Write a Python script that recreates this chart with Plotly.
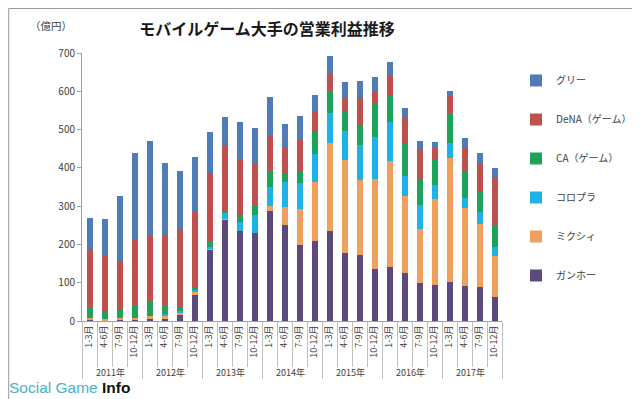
import plotly.graph_objects as go

years = ["2011年", "2012年", "2013年", "2014年", "2015年", "2016年", "2017年"]
quarters = ["1-3月", "4-6月", "7-9月", "10-12月"]

gungho = [3, 2, 3, 3, 4, 6, 16, 68, 188, 265, 236, 229, 287, 250, 198, 208, 236, 178, 173, 137, 141, 125, 99, 95, 101, 92, 88, 62]
mixi = [6, 4, 6, 6, 8, 8, 5, 8, 2, 2, 0, 0, 13, 47, 94, 156, 228, 242, 195, 235, 278, 202, 142, 224, 326, 203, 165, 109]
colopl = [0, 0, 0, 0, 0, 3, 6, 4, 3, 17, 22, 47, 51, 66, 68, 72, 79, 75, 92, 108, 101, 53, 63, 37, 38, 25, 32, 22]
ca = [24, 18, 22, 32, 38, 24, 7, 8, 13, 4, 15, 26, 40, 22, 33, 57, 56, 51, 50, 87, 69, 83, 63, 64, 79, 68, 52, 58]
dena = [155, 145, 127, 173, 175, 182, 203, 197, 180, 169, 150, 110, 94, 69, 80, 52, 47, 36, 75, 32, 51, 71, 79, 35, 44, 66, 73, 124]
gree = [82, 98, 168, 224, 246, 189, 155, 143, 107, 76, 98, 92, 100, 61, 63, 46, 46, 42, 43, 38, 36, 22, 25, 13, 14, 24, 28, 24]

series = [
    ("ガンホー", gungho, "#5B4A7C"),
    ("ミクシィ", mixi, "#F0A05E"),
    ("コロプラ", colopl, "#1FB2E6"),
    ("CA（ゲーム）", ca, "#1FA35C"),
    ("DeNA（ゲーム）", dena, "#BE504E"),
    ("グリー", gree, "#4F7CB8"),
]

x_year = [y for y in years for _ in quarters]
x_q = [q for _ in years for q in quarters]

FONT = "Noto Sans CJK JP"

fig = go.Figure()
for i, (name, vals, col) in enumerate(series):
    fig.add_trace(go.Bar(
        x=[x_year, x_q], y=vals, name=name, marker_color=col,
        marker_line_width=0, legendgroup=f"g{i}", legendrank=1000 - i,
    ))

L, R, T, B = 74, 145, 45, 86
W, H = 640, 399
pw, ph = W - L - R, H - T - B

fig.update_layout(
    width=W, height=H,
    barmode="stack", bargap=0.6,
    plot_bgcolor="white", paper_bgcolor="white",
    margin=dict(l=L, r=R, t=T, b=B),
    font=dict(family=FONT, size=11, color="#404040"),
    showlegend=True,
    legend=dict(
        x=(508 - L) / pw, xanchor="left",
        y=(313 - 58) / ph, yanchor="top",
        traceorder="grouped", tracegroupgap=20,
        font=dict(size=10, color="#404040"),
        bgcolor="rgba(0,0,0,0)",
    ),
    title=dict(
        text="<b>モバイルゲーム大手の営業利益推移</b>",
        x=259 / W, xanchor="center", y=1 - 21 / H, yanchor="middle",
        font=dict(size=16, color="#1a1a1a", family=FONT),
    ),
)

fig.update_yaxes(
    range=[0, 700], dtick=100, showgrid=False,
    showline=True, linecolor="#A0A0A0", linewidth=1,
    ticks="outside", ticklen=4, tickcolor="#A0A0A0",
    tickfont=dict(size=10, color="#404040"), zeroline=False,
)
fig.update_xaxes(
    showline=True, linecolor="#A0A0A0", linewidth=1,
    ticks="outside", ticklen=45, tickcolor="#C0C0C0",
    tickangle=-90, tickfont=dict(size=9, color="#404040"),
    showdividers=True, dividercolor="#C0C0C0", dividerwidth=1,
)

fig.add_annotation(
    text="（億円）", xref="paper", yref="paper",
    x=(20 - L) / pw, y=(313 - 18) / ph, xanchor="left", yanchor="middle",
    showarrow=False, font=dict(size=10.5, color="#404040"),
)
fig.add_annotation(
    text="<span style='color:#49B2C8'>Social Game </span><b>Info</b>",
    xref="paper", yref="paper",
    x=(-1 - L) / pw, y=(313 - 379) / ph, xanchor="left", yanchor="middle",
    showarrow=False, font=dict(size=15.5, color="#111111", family="Liberation Sans"),
)
fig.add_shape(
    type="rect", xref="paper", yref="paper",
    x0=(0.5 - L) / pw, x1=(639.5 - L) / pw,
    y0=(313 - 398.5) / ph, y1=(313 - 0.5) / ph,
    line=dict(color="#9A9A9A", width=1), fillcolor="rgba(0,0,0,0)",
)

fig.write_html("out.html")
